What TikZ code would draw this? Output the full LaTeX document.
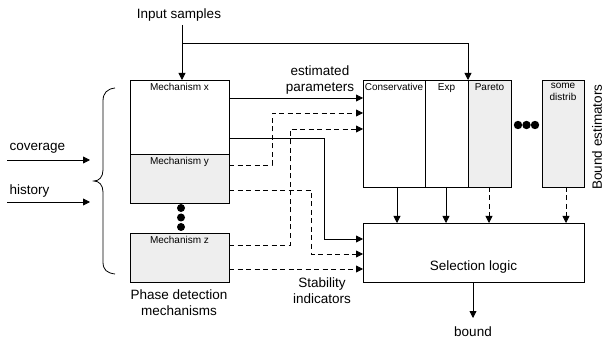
\documentclass[tikz,border=0pt]{standalone}
\usepackage{fontspec}
\setmainfont{Liberation Sans}
\usetikzlibrary{arrows.meta}
\definecolor{boxgray}{RGB}{238,238,238}
\begin{document}
\begin{tikzpicture}[x=1pt,y=-1pt,
  box/.style={draw, line width=0.8pt, inner sep=0pt, outer sep=0pt, anchor=north west},
  shaded/.style={fill=boxgray},
  small/.style={font=\fontsize{10}{12}\selectfont},
  big/.style={font=\fontsize{13.5}{16}\selectfont},
  arr/.style={-{Triangle[length=7pt,width=7pt]}, line width=0.8pt},
  dsh/.style={dash pattern=on 5pt off 3.5pt},
  dot/.style={fill=black}]
\useasboundingbox (0,0) rectangle (605,339);

% phase detection mechanisms
\node[box, minimum width=99pt, minimum height=74pt,
  label={[small,anchor=north]north:Mechanism x}] (mx) at (130,80) {};
\node[box, shaded, minimum width=99pt, minimum height=49pt,
  label={[small,anchor=north]north:Mechanism y}] (my) at (130,154) {};
\node[box, shaded, minimum width=99pt, minimum height=49pt,
  label={[small,anchor=north]north:Mechanism z}] (mz) at (130,233) {};
\foreach \y in {208,217.5,227} \fill (181,\y) circle (4pt);

% bound estimators
\node[box, minimum width=62pt, minimum height=107pt,
  label={[small,anchor=north,inner sep=3pt]north:Conservative}] (cons) at (363,80) {};
\node[box, minimum width=43pt, minimum height=107pt,
  label={[small,anchor=north]north:Exp}] (exp) at (425,80) {};
\node[box, shaded, minimum width=43pt, minimum height=107pt,
  label={[small,anchor=north]north:Pareto}] (par) at (468,80) {};
\node[box, shaded, minimum width=42pt, minimum height=107pt,
  label={[small,anchor=north,align=center]north:some\\distrib}] (some) at (542,80) {};
\foreach \x in {518,526.5,535} \fill (\x,125) circle (4.2pt);
\node[big, rotate=90] (bnd) at (597,137) {Bound estimators};

% selection logic
\node[box, minimum width=221pt, minimum height=59pt,
  label={[big,anchor=south,yshift=5pt]south:Selection logic}] (sel) at (363,223) {};

% texts
\node[big] (in) at (179,15) {Input samples};
\node[big, anchor=west] (cov) at (6,148) {coverage};
\node[big, anchor=west] (hist) at (6,191) {history};
\node[big, align=center] (pdm) at (179,303) {Phase detection\\mechanisms};
\node[big, align=center] (ep) at (320,80) {estimated\\parameters};
\node[big, align=center] (si) at (322,291) {Stability\\indicators};
\node[big] (bd) at (473,332) {bound};

% input arrows
\coordinate (cov0) at (7,160);  \coordinate (cov1) at (90,160);
\coordinate (his0) at (7,202);  \coordinate (his1) at (90,202);
\draw[arr] (cov0) -- (cov1);
\draw[arr] (his0) -- (his1);
\draw[arr] (in.south -| 182,0) -- (182,0 |- mx.north);
\draw[arr] (182,43) -| (par.north west);

% brace around the mechanisms
\draw[line width=0.8pt]
  (115,88) .. controls (107,89) and (103,93) .. (103,101) -- (103,170)
  .. controls (103,177) and (99,181) .. (94,181)
  .. controls (99,181) and (103,185) .. (103,192) -- (103,262)
  .. controls (103,270) and (107,273) .. (115,274);

% mechanisms to estimators
\draw[arr] (mx.east |- 0,98) -- (cons.west |- 0,98);
\draw[arr,dsh] (my.east |- 0,165) -| (272,113) -- (cons.west |- 0,113);
\draw[arr,dsh] (mz.east |- 0,245) -| (290,129) -- (cons.west |- 0,129);

% mechanisms to selection logic
\draw[arr] (mx.east |- 0,138) -| (324,239) -- (sel.west |- 0,239);
\draw[arr,dsh] (my.east |- 0,190) -| (311,254) -- (sel.west |- 0,254);
\draw[arr,dsh] (mz.east |- 0,269) -- (sel.west |- 0,269);

% estimators to selection logic
\draw[arr] (397,0 |- cons.south) -- (397,0 |- sel.north);
\draw[arr] (446,0 |- exp.south) -- (446,0 |- sel.north);
\draw[arr,dsh] (489,0 |- par.south) -- (489,0 |- sel.north);
\draw[arr,dsh] (566,0 |- some.south) -- (566,0 |- sel.north);

% output
\draw[arr] (sel.south -| 473,0) -- (473,318);
\end{tikzpicture}
\end{document}
